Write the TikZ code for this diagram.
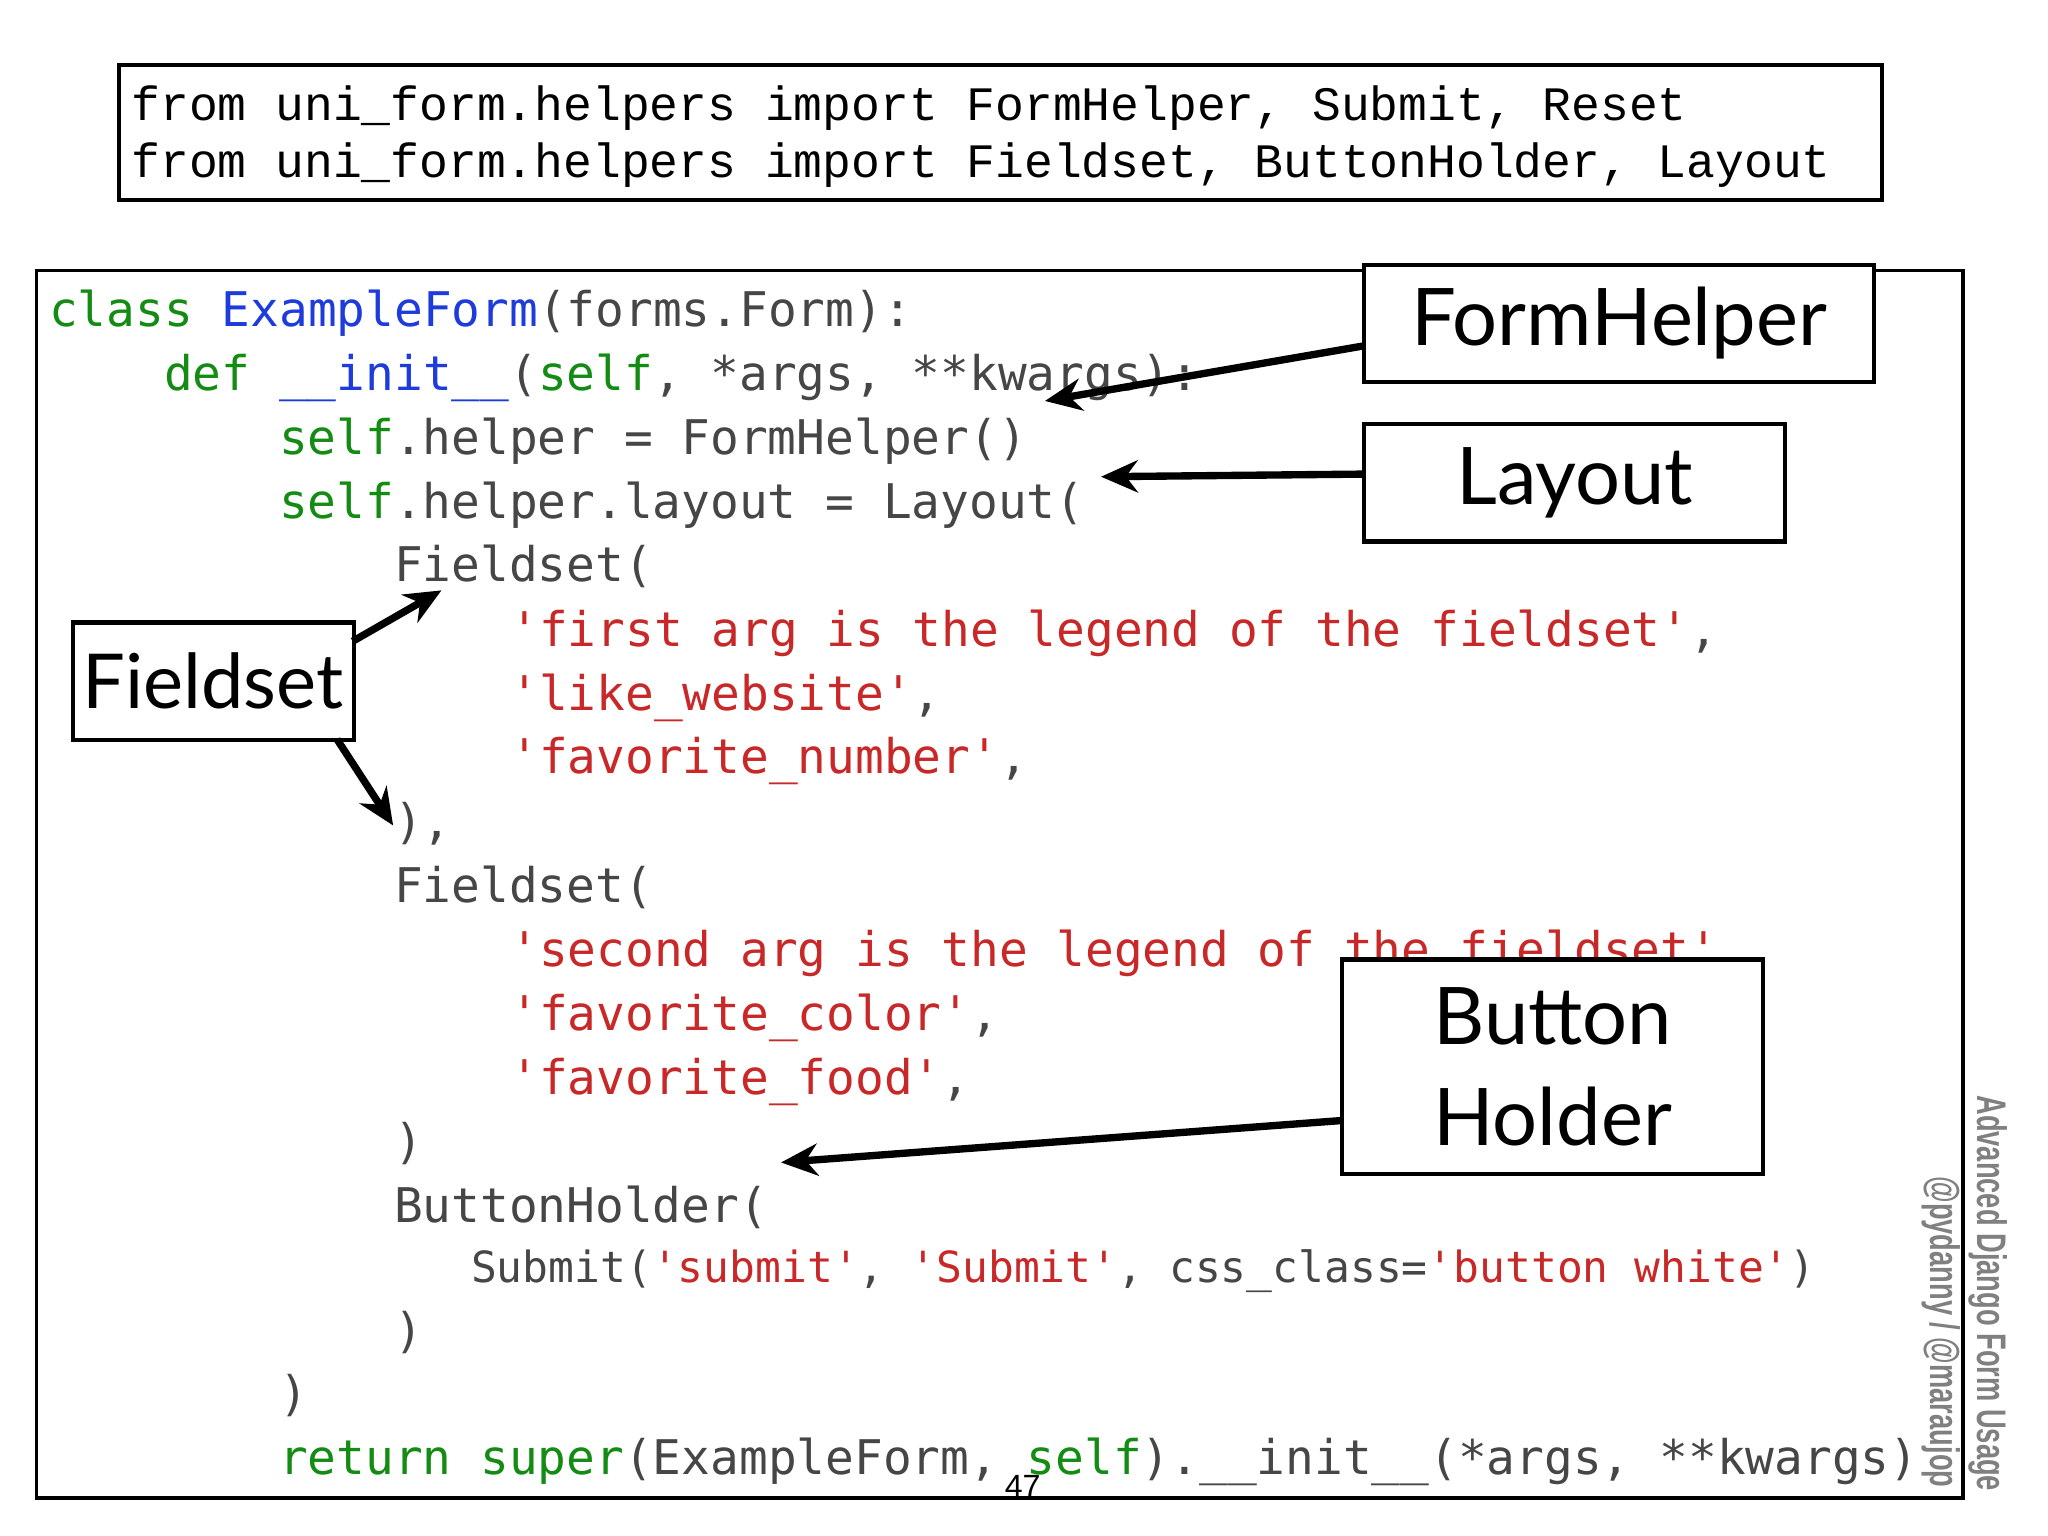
\documentclass[tikz,border=0pt]{standalone}
\usepackage{fontspec}
\usetikzlibrary{arrows.meta}
\newfontfamily\codefont{DejaVu Sans Mono}
\newfontfamily\topfont{Liberation Mono}
\newfontfamily\labfont{Lato}
\newfontfamily\sidefont{Liberation Sans}
\definecolor{kw}{RGB}{20,140,20}
\definecolor{nm}{RGB}{30,60,220}
\definecolor{st}{RGB}{200,40,40}
\definecolor{tx}{RGB}{70,70,70}
\newcommand{\Kw}[1]{\textcolor{kw}{#1}}
\newcommand{\Nm}[1]{\textcolor{nm}{#1}}
\newcommand{\Sq}[1]{\textcolor{st}{#1}}
\begin{document}
\begin{tikzpicture}[x=0.01cm,y=-0.01cm,
  code/.style={anchor=base west,inner sep=0,font=\codefont\fontsize{10.4}{12}\selectfont,text=tx},
  lab/.style={draw,line width=0.9pt,inner sep=0,font=\labfont\fontsize{17.3}{22}\selectfont,align=center},
  arr/.style={line width=1.6pt,-{Stealth[length=8pt,width=7pt]}}]
\useasboundingbox (0,0) rectangle (1568,1176);
\fill[white] (0,0) rectangle (1568,1176);
% top box
\draw[line width=0.8pt] (91,50) rectangle (1441,153);
\node[anchor=base west,inner sep=0,font=\topfont\fontsize{10.45}{12}\selectfont] (t1) at (100,92) {from uni\_form.helpers import FormHelper, Submit, Reset};
\node[anchor=base west,inner sep=0,font=\topfont\fontsize{10.45}{12}\selectfont] (t2) at (100,136) {from uni\_form.helpers import Fieldset, ButtonHolder, Layout};
% code frame
\draw[line width=0.8pt] (28,207) rectangle (1503,1147);
\node[code] (c1) at (37,250) {\Kw{class} \Nm{ExampleForm}(forms.Form):};
\node[code] (c2) at (125,299) {\Kw{def} \Nm{\_\_init\_\_}(\Kw{self}, *args, **kwargs):};
\node[code] (c3) at (213,348) {\Kw{self}.helper = FormHelper()};
\node[code] (c4) at (213,397) {\Kw{self}.helper.layout = Layout(};
\node[code] (c5) at (301,445) {Fieldset(};
\node[code] (c6) at (390,495) {\Sq{'first arg is the legend of the fieldset'},};
\node[code] (c7) at (390,544) {\Sq{'like\_website'},};
\node[code] (c8) at (390,592) {\Sq{'favorite\_number'},};
\node[code] (c9) at (301,642) {),};
\node[code] (c10) at (301,691) {Fieldset(};
\node[code] (c11) at (390,740) {\Sq{'second arg is the legend of the fieldset'},};
\node[code] (c12) at (390,789) {\Sq{'favorite\_color'},};
\node[code] (c13) at (390,838) {\Sq{'favorite\_food'},};
\node[code] (c14) at (301,887) {)};
\node[code] (c15) at (301,936) {ButtonHolder(};
\node[code,font=\codefont\fontsize{9.35}{12}\selectfont] (c16) at (360,982) {Submit(\Sq{'submit'}, \Sq{'Submit'}, css\_class=\Sq{'button white'})};
\node[code] (c17) at (301,1032) {)};
\node[code] (c18) at (213,1080) {)};
\node[code] (c19) at (213,1129) {\Kw{return} \Kw{super}(ExampleForm, \Kw{self}).\_\_init\_\_(*args, **kwargs)};
% label boxes
\node[lab,fill=white,minimum width=3.9cm,minimum height=0.9cm,anchor=north west] (fh) at (1043,201) {FormHelper};
\node[lab,fill=white,minimum width=3.22cm,minimum height=0.9cm,anchor=north west] (ly) at (1043,323) {Layout};
\node[lab,fill=white,minimum width=2.15cm,minimum height=0.9cm,anchor=north west,font=\labfont\fontsize{16.5}{22}\selectfont] (fs) at (54,475) {Fieldset};
\node[lab,fill=white,minimum width=3.22cm,minimum height=1.64cm,anchor=north west,font=\labfont\fontsize{17.3}{22}\selectfont] (bh) at (1026,733) {Button\\Holder};
\coordinate (p1) at (800,307);
\coordinate (p2) at (843,365);
\coordinate (p3) at (338,452);
\coordinate (p4) at (301,632);
\coordinate (p5) at (598,890);
\draw[arr] (fh.west |- 0,265) -- (p1);
\draw[arr] (ly.west |- 0,363) -- (p2);
\draw[arr] (270,491) -- (p3);
\draw[arr] (258,566) -- (p4);
\draw[arr] (bh.west |- 0,858) -- (p5);
% side text
\node[rotate=-90,anchor=north west,inner sep=0,text=gray,font=\sidefont\bfseries\fontsize{9}{11}\selectfont] (s1) at (1538,838) {\scalebox{0.66}[1]{Advanced Django Form Usage}};
\node[rotate=-90,anchor=north west,inner sep=0,text=gray,font=\sidefont\bfseries\fontsize{9}{11}\selectfont] (s2) at (1502,900) {\scalebox{0.66}[1]{@pydanny / @maraujop}};
\node[inner sep=0,font=\sidefont\fontsize{7}{8}\selectfont] (pg) at (783,1138) {47};
\end{tikzpicture}
\end{document}
